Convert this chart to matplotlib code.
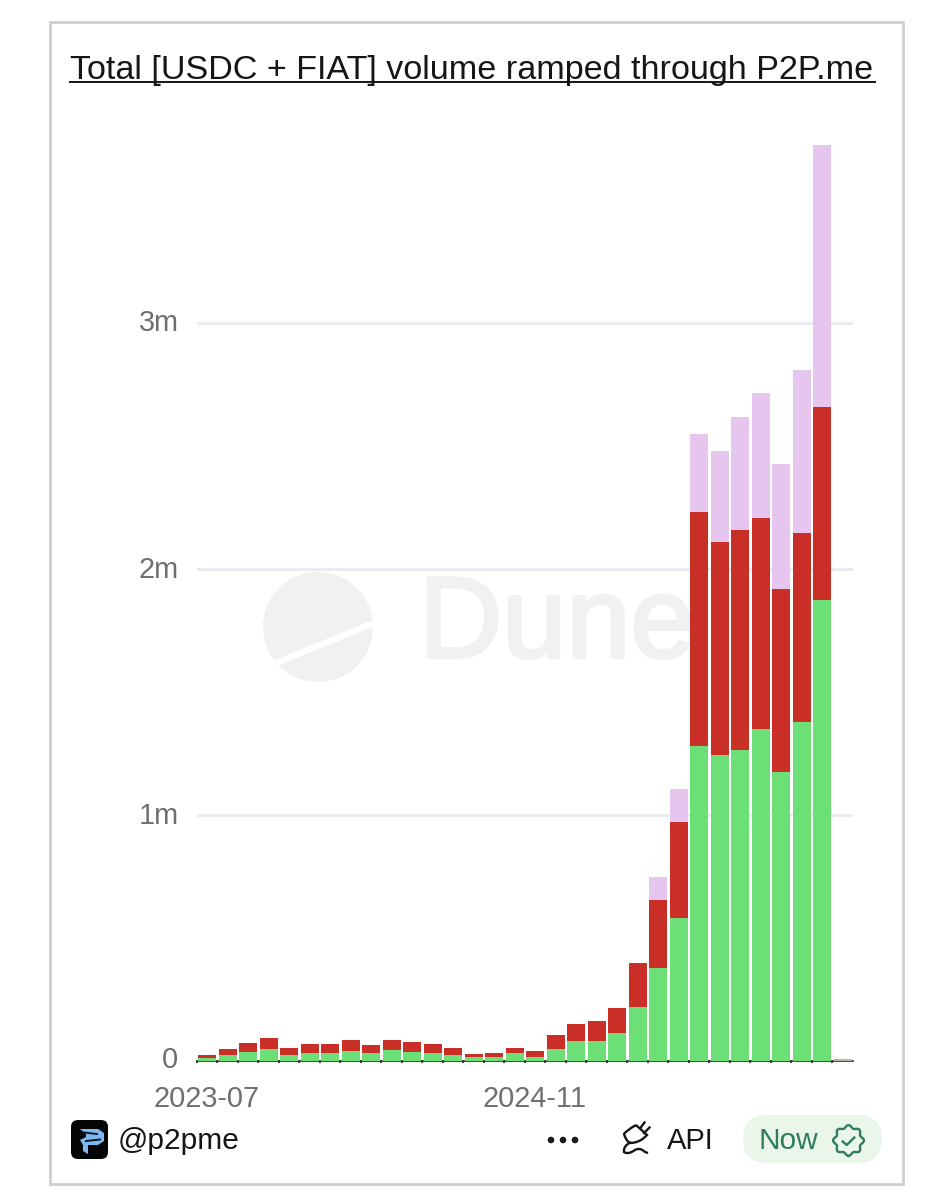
import numpy as np
import matplotlib
matplotlib.use('Agg')
import matplotlib.pyplot as plt
import matplotlib.patheffects as pe
from matplotlib.patches import Rectangle, FancyBboxPatch, Circle, Polygon, PathPatch
from matplotlib.path import Path
from matplotlib.transforms import ScaledTranslation

plt.rcParams['font.family'] = ['Liberation Sans', 'DejaVu Sans']

W, H = 953, 1200

months = ['2023-07', '2023-08', '2023-09', '2023-10', '2023-11', '2023-12', '2024-01', '2024-02',
          '2024-03', '2024-04', '2024-05', '2024-06', '2024-07', '2024-08', '2024-09', '2024-10',
          '2024-11', '2024-12', '2025-01', '2025-02', '2025-03', '2025-04', '2025-05', '2025-06',
          '2025-07', '2025-08', '2025-09', '2025-10', '2025-11', '2025-12', '2026-01', '2026-02']
green = [11, 23, 37, 47, 26, 32, 32, 42, 31, 45, 37, 34, 26, 15, 16, 32,
         15, 49, 83, 83, 115, 218, 378, 581, 1280, 1244, 1264, 1350, 1175, 1378, 1874, 4]
red = [13, 24, 35, 47, 27, 36, 38, 45, 33, 40, 42, 34, 28, 13, 17, 21,
       24, 57, 69, 81, 100, 180, 276, 391, 952, 866, 895, 857, 744, 768, 785, 3]
purple = [0, 0, 0, 0, 0, 0, 0, 0, 0, 0, 0, 0, 0, 0, 0, 0,
          0, 0, 0, 0, 0, 0, 94, 134, 317, 370, 459, 508, 508, 663, 1065, 3]
y_ticks = [1000, 2000, 3000]
y_labels = ['1m', '2m', '3m']
x_tick_labels = ['2023-07', '2024-11']

fig = plt.figure(figsize=(W / 100, H / 100), dpi=100, facecolor='white')

# page layer in pixel coordinates, for everything that is not the chart itself
bg = fig.add_axes([0, 0, 1, 1], zorder=0)
bg.set_xlim(0, W)
bg.set_ylim(H, 0)
bg.axis('off')

bg.add_patch(Rectangle((50, 22), 853, 1162, fill=False, ec='#cdcfd3', lw=2))

bg.text(70, 71, 'Total [USDC + FIAT] volume ramped through P2P.me', fontsize=24.6,
        color='#161616', ha='left', va='center')
bg.plot([70, 875], [82, 82], color='#161616', lw=1.4)

# Dune watermark
bg.add_patch(Circle((318, 627), 55, fc='#f1f1f2', ec='none'))
bg.add_patch(Polygon([(255, 668), (385, 615), (385, 622), (255, 675)], fc='white', ec='none'))
bg.text(419, 628, 'Dune', fontsize=83, color='#f1f1f2', ha='left', va='center',
        path_effects=[pe.withStroke(linewidth=2.5, foreground='#f1f1f2')])

# chart
y_top = 130
y_base = 1061
ax = fig.add_axes([197 / W, (H - y_base) / H, (853 - 197) / W, (y_base - y_top) / H], zorder=1)
ax.patch.set_alpha(0)

x = np.arange(len(months))
green_v = np.array(green)
red_v = np.array(red)
purple_v = np.array(purple)
bar_w = 0.9
n = len(months) - 1
ax.bar(x, green_v, width=bar_w, color=['#6ce077'] * n + ['#b8b8a8'], zorder=3)
ax.bar(x, red_v, width=bar_w, bottom=green_v, color=['#c92f27'] * n + ['#b8b8a8'], zorder=3)
ax.bar(x, purple_v, width=bar_w, bottom=green_v + red_v, color=['#e6c6ee'] * n + ['#c8c8c0'], zorder=3)

ax.set_xlim(-0.5, len(months) - 0.5)
ax.set_ylim(0, (y_base - y_top) / 246 * 1000)
ax.set_yticks(y_ticks)
ax.set_yticklabels(y_labels)
ax.grid(axis='y', color='#e9e9f1', lw=2, zorder=1)
ax.set_axisbelow(True)
ax.tick_params(axis='y', length=0, pad=13, labelsize=20.8, labelcolor='#6f6f6f')
for lab in ax.get_yticklabels():
    lab.set_transform(lab.get_transform() + ScaledTranslation(0, 2.5 / 100, fig.dpi_scale_trans))
ax.set_xticks([months.index(m) for m in x_tick_labels])
ax.set_xticklabels(x_tick_labels)
ax.tick_params(axis='x', length=0, pad=17.5, labelsize=20.8, labelcolor='#6f6f6f')
for lab in ax.get_xticklabels():
    lab.set_transform(lab.get_transform() + ScaledTranslation(-1 / 100, 0, fig.dpi_scale_trans))
ax.set_xticks(x - 0.5, minor=True)
ax.tick_params(axis='x', which='minor', length=1.5, width=1.2, color='#222222')
for side in ['top', 'left', 'right']:
    ax.spines[side].set_visible(False)
ax.spines['bottom'].set_color('#2b2b2b')
ax.spines['bottom'].set_linewidth(1.2)
bg.text(178, 1060, '0', fontsize=20.8, color='#6f6f6f', ha='right', va='center')

# footer
bg.add_patch(FancyBboxPatch((71, 1120), 37, 39, boxstyle='round,pad=0,rounding_size=7', fc='#050505', ec='none'))
bg.add_patch(Polygon([(80, 1129), (98, 1129), (104, 1133), (104, 1141), (98, 1145), (88, 1145),
                      (88, 1154), (83, 1151), (83, 1145), (80, 1140), (86, 1137), (86, 1134)],
                     fc='#7fb8ee', ec='none'))
bg.plot([84, 97], [1132.5, 1134], color='#0a1a2a', lw=1.4)
bg.plot([86, 100], [1141, 1139.5], color='#0a1a2a', lw=1.4)
bg.text(118, 1141, '@p2pme', fontsize=21.5, color='#161616', ha='left', va='center')

for cx in [551, 563, 575]:
    bg.add_patch(Circle((cx, 1140), 3.3, fc='#1a1a1a', ec='none'))

# plug icon, head with two prongs and a curly cord
plug_head = Path([(636, 1125), (647, 1135), (640, 1143), (630, 1143), (626, 1141), (624, 1134), (627, 1130), (636, 1125)],
                 [Path.MOVETO, Path.LINETO, Path.CURVE3, Path.CURVE3, Path.CURVE3, Path.CURVE3, Path.CURVE3, Path.CURVE3])
bg.add_patch(PathPatch(plug_head, fill=False, ec='#161616', lw=1.7))
bg.plot([644.5, 640], [1122.5, 1128.5], color='#161616', lw=1.7)
bg.plot([649.5, 644], [1127.5, 1133], color='#161616', lw=1.7)
cord = Path([(631, 1142), (623, 1146), (624, 1152), (628, 1155), (635, 1150), (640, 1147), (645, 1152), (648, 1153)],
            [Path.MOVETO, Path.CURVE3, Path.CURVE3, Path.CURVE3, Path.CURVE3, Path.CURVE3, Path.CURVE3, Path.LINETO])
bg.add_patch(PathPatch(cord, fill=False, ec='#161616', lw=1.7))
bg.text(667, 1141, 'API', fontsize=21, color='#161616', ha='left', va='center')

bg.add_patch(FancyBboxPatch((743, 1115), 139, 48, boxstyle='round,pad=0,rounding_size=24', fc='#ebf6ea', ec='none'))
bg.text(759, 1141, 'Now', fontsize=21.5, color='#2f7d5b', ha='left', va='center')

# verified badge, wavy outline with a check
ang = np.linspace(0, 2 * np.pi, 121)
rad = 14 + 1.4 * np.cos(8 * ang)
bg.plot(848.5 + rad * np.sin(ang), 1140.5 + rad * np.cos(ang), color='#2f7d5b', lw=1.7)
bg.plot([842.7, 846.7, 854.3], [1141.5, 1145, 1137.5], color='#2f7d5b', lw=1.7)

fig.savefig('out.png', dpi=100)
